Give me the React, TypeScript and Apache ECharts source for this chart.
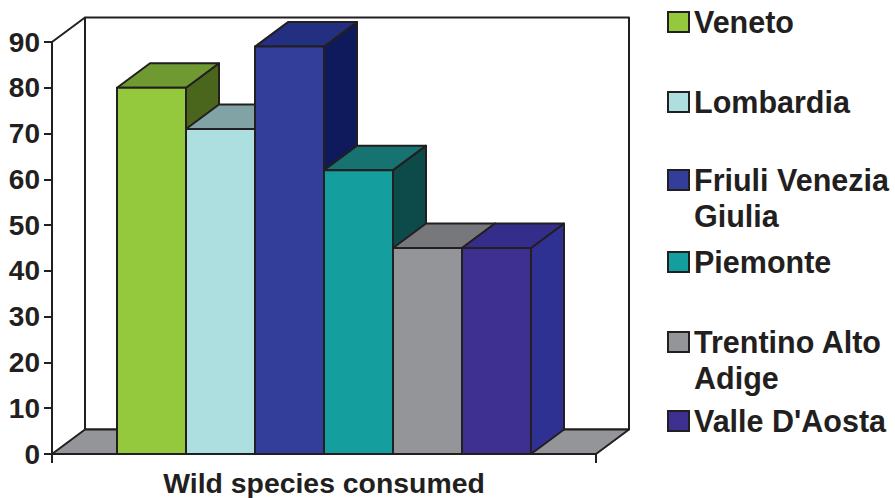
import React, { useEffect, useRef } from "react";
import * as echarts from "echarts";

const categories = ["Wild species consumed"];
const regions = ["Veneto", "Lombardia", "Friuli Venezia Giulia", "Piemonte", "Trentino Alto Adige", "Valle D'Aosta"];
const legendLabels = ["Veneto", "Lombardia", "\nFriuli Venezia\nGiulia", "Piemonte", "\nTrentino Alto\nAdige", "Valle D'Aosta"];
const values = [80, 71, 89, 62, 45, 45];
const frontColors = ["#95c93d", "#aedfe0", "#333d9a", "#149e9d", "#949599", "#3d3091"];
const topColors = ["#6f9a32", "#82a3a5", "#232f80", "#167372", "#77787b", "#352d8a"];
const sideColors = ["#4a651c", "#5a7a7a", "#0f1a5c", "#0d4b4a", "#55565a", "#2e3192"];
const yTicks = { min: 0, max: 90, interval: 10 };
const legendCenters = [22, 102, 180, 262, 342, 421];

const INK = "#231f20";
const DX = 33;
const DY = -24.5;
const BAR_W = 69;
const BAR_START = 65;
const FONT = "'Liberation Sans', Arial, sans-serif";

function poly(points: number[][], fill: string) {
  return {
    type: "polygon",
    shape: { points },
    style: { fill, stroke: INK, lineWidth: 2, lineJoin: "round" },
  };
}

function renderWalls(params: any, api: any) {
  const cs = params.coordSys;
  const l = cs.x, r = cs.x + cs.width, t = cs.y, b = cs.y + cs.height;
  return {
    type: "group",
    children: [
      poly([[l + DX, t + DY], [r + DX, t + DY], [r + DX, b + DY], [l + DX, b + DY]], "#ffffff"),
      poly([[l, b], [r, b], [r + DX, b + DY], [l + DX, b + DY]], "#949599"),
      { type: "line", shape: { x1: l, y1: t, x2: l + DX, y2: t + DY }, style: { stroke: INK, lineWidth: 2 } },
    ],
  };
}

function renderBar(index: number) {
  return (params: any, api: any) => {
    const cs = params.coordSys;
    const base = api.coord([0, 0]);
    const top = api.coord([0, api.value(1)]);
    const x0 = cs.x + BAR_START + index * BAR_W;
    const x1 = x0 + BAR_W;
    const y0 = base[1];
    const y1 = top[1];
    return {
      type: "group",
      children: [
        poly([[x1, y0], [x1 + DX, y0 + DY], [x1 + DX, y1 + DY], [x1, y1]], sideColors[index]),
        poly([[x0, y1], [x1, y1], [x1 + DX, y1 + DY], [x0 + DX, y1 + DY]], topColors[index]),
        poly([[x0, y0], [x1, y0], [x1, y1], [x0, y1]], frontColors[index]),
      ],
    };
  };
}

export default function App() {
  const ref = useRef<HTMLDivElement>(null);
  useEffect(() => {
    const chart = echarts.init(ref.current!, undefined, { renderer: "svg" });
    const legend = regions.map((name, i) => {
      const lines = legendLabels[i].split("\n").length;
      const lh = 36;
      return {
        show: true,
        data: [name],
        left: 667,
        top: legendCenters[i] - (lines * lh) / 2,
        padding: 0,
        itemWidth: 21,
        itemHeight: 20,
        icon: "rect",
        selectedMode: false,
        itemStyle: { borderColor: INK, borderWidth: 2 },
        formatter: () => legendLabels[i],
        textStyle: {
          color: INK,
          fontFamily: FONT,
          fontWeight: "bold",
          fontSize: 30.5,
          lineHeight: lh,
        },
      };
    });
    chart.setOption({
      animation: false,
      backgroundColor: "#ffffff",
      legend,
      grid: { left: 52, right: 299, top: 42, bottom: 44, containLabel: false },
      xAxis: {
        type: "category",
        data: categories,
        axisLine: { lineStyle: { color: INK, width: 2 } },
        axisTick: { show: true, length: 9, lineStyle: { color: INK, width: 2 } },
        axisLabel: {
          color: INK,
          fontFamily: FONT,
          fontWeight: "bold",
          fontSize: 28.4,
          lineHeight: 28,
          margin: 15,
        },
      },
      yAxis: {
        type: "value",
        min: yTicks.min,
        max: yTicks.max,
        interval: yTicks.interval,
        splitLine: { show: false },
        axisLine: { show: true, lineStyle: { color: INK, width: 2 } },
        axisTick: { show: true, length: 8, lineStyle: { color: INK, width: 2 } },
        axisLabel: {
          color: INK,
          fontFamily: FONT,
          fontWeight: "bold",
          fontSize: 28,
          margin: 12,
        },
      },
      series: [
        {
          type: "custom",
          name: "walls",
          data: [[0, 0]],
          renderItem: renderWalls,
          clip: false,
          silent: true,
          z: 1,
        },
        ...regions.map((name, i) => ({
          type: "custom",
          name,
          data: [[0, values[i]]],
          encode: { x: 0, y: 1 },
          renderItem: renderBar(i),
          clip: false,
          silent: true,
          itemStyle: { color: frontColors[i] },
          z: 2 + i,
        })),
      ],
    });
    return () => chart.dispose();
  }, []);
  return <div ref={ref} style={{ position: "fixed", left: 0, top: 0, width: 895, height: 498 }} />;
}
